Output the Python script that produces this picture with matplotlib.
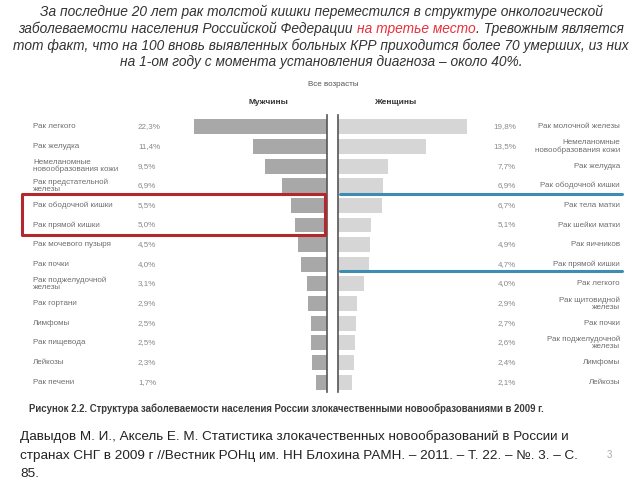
import matplotlib
matplotlib.use("Agg")
import matplotlib.pyplot as plt
from matplotlib.transforms import blended_transform_factory
from matplotlib.patches import Rectangle
from matplotlib.lines import Line2D

# data
men_labels = ["Рак легкого", "Рак желудка", "Немеланомные\nновообразования кожи",
              "Рак предстательной\nжелезы", "Рак ободочной кишки", "Рак прямой кишки",
              "Рак мочевого пузыря", "Рак почки", "Рак поджелудочной\nжелезы",
              "Рак гортани", "Лимфомы", "Рак пищевода", "Лейкозы", "Рак печени"]
men_values = [22.3, 11.4, 9.5, 6.9, 5.5, 5.0, 4.5, 4.0, 3.1, 2.9, 2.5, 2.5, 2.3, 1.7]

women_labels = ["Рак молочной железы", "Немеланомные\nновообразования кожи", "Рак желудка",
                "Рак ободочной кишки", "Рак тела матки", "Рак шейки матки", "Рак яичников",
                "Рак прямой кишки", "Рак легкого", "Рак щитовидной\nжелезы", "Рак почки",
                "Рак поджелудочной\nжелезы", "Лимфомы", "Лейкозы"]
women_values = [19.8, 13.5, 7.7, 6.9, 6.7, 5.1, 4.9, 4.7, 4.0, 2.9, 2.7, 2.6, 2.4, 2.1]

title_lines = ["За последние 20 лет рак толстой кишки переместился в структуре онкологической",
               None,
               "тот факт, что на 100 вновь выявленных больных КРР приходится более 70 умерших, из них",
               "на 1-ом году с момента установления диагноза – около 40%."]
title_line2 = ["заболеваемости населения Российской Федерации ", "на третье место",
               ". Тревожным является"]
caption = "Рисунок 2.2. Структура заболеваемости населения России злокачественными новообразованиями в 2009 г."
citation = ["Давыдов М. И., Аксель Е. М. Статистика злокачественных новообразований в России и",
            "странах СНГ в 2009 г //Вестник РОНц им. НН Блохина РАМН. – 2011. – Т. 22. – №. 3. – С.",
            "85."]

W, H = 640, 480
fig = plt.figure(figsize=(6.4, 4.8), dpi=100)
plt.rcParams['font.family'] = ['Liberation Sans', 'DejaVu Sans']

def fx(x):
    return x / W

def fy(y):
    return 1 - y / H

def pct(v):
    return ("%.1f%%" % v).replace(".", ",")

# axes: shared scale of ~6.5 px per percent
top, bottom = 115, 392
ax_m = fig.add_axes([fx(194), fy(bottom), fx(133), (bottom - top) / H])
ax_w = fig.add_axes([fx(338), fy(bottom), fx(180), (bottom - top) / H])
rows = list(range(len(men_values)))

ax_m.barh(rows, men_values, height=0.76, color="#a8a8a8")
ax_w.barh(rows, women_values, height=0.76, color="#d6d6d6")
ax_m.set_xlim(133 / 6.5, 0)
ax_w.set_xlim(0, 180 / 6.5)
for ax in (ax_m, ax_w):
    ax.set_ylim(13.5, -0.6)
    ax.set_xticks([])
    ax.set_yticks([])
    for s in ax.spines.values():
        s.set_visible(False)
ax_m.spines["right"].set_visible(True)
ax_m.spines["right"].set_color("#555555")
ax_m.spines["right"].set_linewidth(1.2)
ax_w.spines["left"].set_visible(True)
ax_w.spines["left"].set_color("#555555")
ax_w.spines["left"].set_linewidth(1.2)

tr_m = blended_transform_factory(fig.transFigure, ax_m.transData)
tr_w = blended_transform_factory(fig.transFigure, ax_w.transData)
for i, (lab, v) in enumerate(zip(men_labels, men_values)):
    ax_m.text(fx(33), i, lab, transform=tr_m, ha="left", va="center",
              fontsize=5.8, color="#6e6e6e", linespacing=1.05)
    ax_m.text(fx(138), i, pct(v), transform=tr_m, ha="left", va="center",
              fontsize=5.8, color="#8a8a8a")
for i, (lab, v) in enumerate(zip(women_labels, women_values)):
    ax_w.text(fx(620), i, lab, transform=tr_w, ha="right", va="center",
              fontsize=5.8, color="#6e6e6e", linespacing=1.05, multialignment="right")
    ax_w.text(fx(516), i, pct(v), transform=tr_w, ha="right", va="center",
              fontsize=5.8, color="#8a8a8a")

fig.text(fx(333), fy(84), "Все возрасты", ha="center", va="center", fontsize=5.8, color="#555555")
fig.text(fx(268), fy(103), "Мужчины", ha="center", va="center", fontsize=6, color="#333333",
         fontweight="bold")
fig.text(fx(396), fy(103), "Женщины", ha="center", va="center", fontsize=6, color="#333333",
         fontweight="bold")

# highlight of colorectal rows
rect = Rectangle((fx(22), 3.42), fx(303), 2.1, transform=tr_m, fill=False,
                 edgecolor="#b3282d", linewidth=2.2, joinstyle="round")
fig.add_artist(rect)
for yy in (3.42, 7.33):
    fig.add_artist(Line2D([fx(340), fx(622)], [yy, yy], transform=tr_w,
                          color="#3d8db3", linewidth=2.2, solid_capstyle="round"))

# title
title_y = [12, 29, 46, 62]
tkw = dict(fontsize=9.9, style="italic", color="#333333", va="center")
for ln, y in zip(title_lines, title_y):
    if ln is not None:
        fig.text(fx(321), fy(y), ln, ha="center", **tkw)
parts = []
for k, s in enumerate(title_line2):
    parts.append(fig.text(0, fy(title_y[1]), s, ha="left",
                          **dict(tkw, color="#e8303a" if k == 1 else "#333333")))
r = fig.canvas.get_renderer()
widths = [t.get_window_extent(r).width for t in parts]
x0 = 321 - sum(widths) / 2
for t, w in zip(parts, widths):
    t.set_x(fx(x0))
    x0 += w

fig.text(fx(29), fy(409), caption, ha="left", va="center", fontsize=6.95,
         fontweight="bold", color="#3a3a3a")

for ln, y in zip(citation, [437, 456, 474]):
    fig.text(fx(20), fy(y), ln, ha="left", va="center", fontsize=9.7, color="#222222")
fig.text(fx(609), fy(455), "3", ha="center", va="center", fontsize=7, color="#aaaaaa")

fig.savefig("out.png", dpi=100)
